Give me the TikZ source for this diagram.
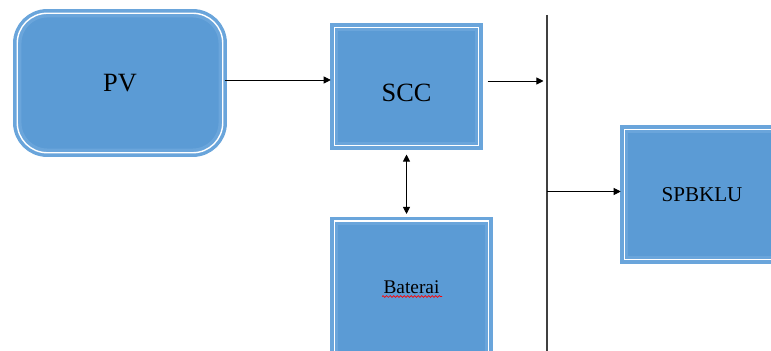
\documentclass[tikz,border=0pt]{standalone}
\usepackage{fontspec}
\setmainfont{Liberation Serif}
\usetikzlibrary{arrows.meta,decorations.pathmorphing}
\definecolor{boxblue}{HTML}{5B9BD5}
\definecolor{edgeblue}{HTML}{6AA5DB}
\tikzset{blok/.style={draw=edgeblue, line width=2pt, double=white, double distance=0.8pt, fill=boxblue, inner sep=0pt}}
\tikzset{arr/.style={-{Triangle[length=4pt,width=4pt]}, line width=0.5pt}}
\tikzset{wavy/.style={red, line width=0.4pt, decorate, decoration={snake, amplitude=0.5pt, segment length=2pt}}}

\begin{document}
\begin{tikzpicture}
\useasboundingbox (0,0) rectangle (15.42,7.02);
\clip (0,0) rectangle (15.42,7.02);
%\draw[-,color=black,dashed] (0,0) grid (15,7);
\node[blok, rounded corners=0.6cm, minimum width=4.11cm, minimum height=2.79cm, font=\fontsize{15}{18}\selectfont] (PV) at (2.40,5.36) {PV};
\node[blok, minimum width=2.89cm, minimum height=2.37cm, text height=0.6cm, text depth=0cm, font=\fontsize{15}{18}\selectfont] (SCC) at (8.13,5.29) {SCC};
\node[blok, minimum width=3.09cm, minimum height=2.70cm, text height=0.3cm, text depth=0.1cm, font=\fontsize{11}{13}\selectfont] (Bat) at (8.23,1.25) {Baterai};
\node[blok, minimum width=3.11cm, minimum height=2.61cm, font=\fontsize{12}{14}\selectfont] (SPB) at (14.04,3.13) {SPBKLU};
\coordinate (bustop) at (10.94,6.72);
\coordinate (busbot) at (10.94,-0.1);
\draw[black!75, line width=0.8pt] (bustop) -- (busbot);
\draw[arr] ([yshift=1.3mm]SCC.west -| PV.east) -- ([yshift=1.3mm, xshift=-1pt]SCC.west);
\draw[arr, shorten <=4pt] ([yshift=1.1mm]SCC.east) -- ([yshift=1.1mm, xshift=-2pt]SCC.east -| bustop);
\draw[arr, shorten >=1pt] ([yshift=0.6mm]SPB.west -| bustop) -- ([yshift=0.6mm]SPB.west);
\draw[{Triangle[length=4pt,width=4pt]}-{Triangle[length=4pt,width=4pt]}, line width=0.5pt, shorten <=4pt, shorten >=3pt] (SCC.south) -- (SCC.south |- Bat.north);
\draw[wavy] ([xshift=-5.9mm, yshift=-1.6mm]Bat.center) -- ++(1.2,0);
%\node at (8.23,1.25) {Baterai};
\end{tikzpicture}
\end{document}
